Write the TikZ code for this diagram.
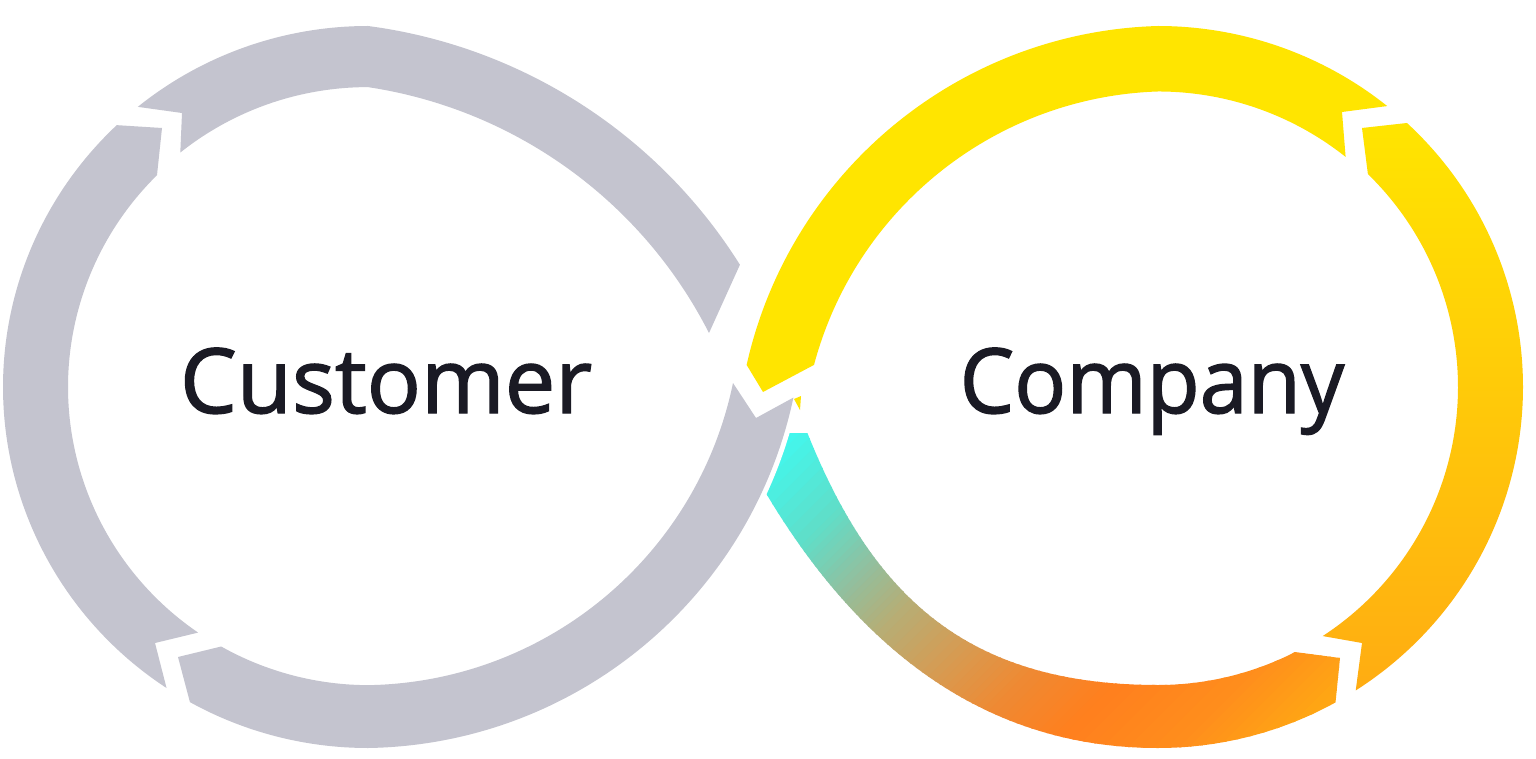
\documentclass[tikz,border=0pt]{standalone}
\usepackage{fontspec}
\newfontfamily\lblfont{Open Sans}[FakeBold=1.6]
\definecolor{loopgray}{RGB}{196,196,207}
\definecolor{loopyellow}{RGB}{255,229,0}
\definecolor{labeltext}{RGB}{26,26,36}
\definecolor{g0}{RGB}{61,251,244}
\definecolor{g1}{RGB}{96,222,200}
\definecolor{g2}{RGB}{144,192,160}
\definecolor{g3}{RGB}{182,174,118}
\definecolor{g4}{RGB}{216,154,80}
\definecolor{g5}{RGB}{238,138,52}
\definecolor{g6}{RGB}{255,127,30}
\definecolor{g7}{RGB}{255,142,28}
\definecolor{g8}{RGB}{255,166,20}
\definecolor{rbot}{RGB}{255,172,18}
\begin{document}
\begin{tikzpicture}[x=1pt,y=-1pt,
  lbltext/.style={font=\lblfont\fontsize{90}{100}\selectfont, text=labeltext, inner sep=0pt, anchor=base}]
\useasboundingbox (0,0) rectangle (1536,759);
\fill[white] (0,0) rectangle (1536,759);

% ---- gradient piece (right lobe, bottom) ----
\begin{scope}
\clip (0,433) rectangle (1536,759);
\clip (736,430) -- (760,483) .. controls (870,673.5) and (1008,748) .. (1158,748)
  arc[start angle=90, end angle=60.9, x radius=365, y radius=361]
  -- (1340,658)
  -- ([shift={(1158,387)}]62.8:300 and 298)
  arc[start angle=62.8, end angle=90, x radius=300, y radius=298]
  .. controls (958,685) and (862,588.4) .. (795,400)
  -- (780,395) -- cycle;
\foreach \sa/\sb/\ca/\cb in {-80/0/g0/g0, 0/100/g0/g1, 100/160/g1/g2, 160/215/g2/g3, 215/290/g3/g4, 290/350/g4/g5, 350/420/g5/g6, 420/510/g6/g7, 510/580/g7/g8, 580/720/g8/g8}{
  \foreach \k in {0,...,9}{
    \pgfmathsetmacro\s{\sa+(\sb-\sa)*\k/10}
    \pgfmathsetmacro\t{\sa+(\sb-\sa)*(\k+1)/10+1.5}
    \pgfmathtruncatemacro\p{\k*10+5}
    \fill[\cb!\p!\ca] ({780+0.7071*\s+600},{425+0.7071*\s-600}) -- ({780+0.7071*\s-600},{425+0.7071*\s+600}) -- ({780+0.7071*\t-600},{425+0.7071*\t+600}) -- ({780+0.7071*\t+600},{425+0.7071*\t-600}) -- cycle;
  }
}
\end{scope}

% ---- left lobe (gray) ----
% left piece
\fill[loopgray] ([shift={(368,387)}]123.5:365 and 361)
  arc[start angle=123.5, end angle=226.5, x radius=365, y radius=361]
  -- (162,128)
  -- ([shift={(368,387)}]225.3:300 and 298)
  arc[start angle=225.3, end angle=124.5, x radius=300, y radius=298]
  -- (155,643) -- cycle;
% top piece
\fill[loopgray] ([shift={(368,387)}]230.9:365 and 361)
  arc[start angle=230.9, end angle=270, x radius=365, y radius=361]
  arc[start angle=-82.5, end angle=-32.1, radius=519]
  -- (709,333)
  arc[start angle=-26.95, end angle=-81.48, radius=459]
  arc[start angle=270, end angle=231.3, x radius=300, y radius=298]
  -- (182,113) -- cycle;
% lower piece
\draw[white, line width=10] (368,748) arc[start angle=89.09, end angle=11.95, radius=442];
\fill[loopgray] (178,657)
  -- ([shift={(368,387)}]119.2:365 and 361)
  arc[start angle=119.2, end angle=90, x radius=365, y radius=361]
  arc[start angle=89.09, end angle=11.95, radius=442]
  -- (756,418) -- (733,383)
  arc[start angle=11.69, end angle=88.94, radius=379]
  arc[start angle=90, end angle=119.5, x radius=300, y radius=298]
  -- cycle;

% ---- right lobe ----
% top piece (yellow)
\fill[loopyellow] ([shift={(1158,387)}]-51.1:365 and 361)
  arc[start angle=-51.1, end angle=-90, x radius=365, y radius=361]
  arc[start angle=268.4, end angle=192.63, radius=434]
  -- (763,392) -- (814,364.9)
  arc[start angle=194.92, end angle=268.13, radius=368.5]
  arc[start angle=-90, end angle=-51.3, x radius=300, y radius=298]
  -- (1342,112) -- cycle;
% right piece
\shade[top color=loopyellow, middle color=loopyellow, bottom color=rbot]
  ([shift={(1158,387)}]57.2:365 and 361)
  arc[start angle=57.2, end angle=-47, x radius=365, y radius=361]
  -- (1362,128)
  -- ([shift={(1158,387)}]-45.6:300 and 298)
  arc[start angle=-45.6, end angle=56.7, x radius=300, y radius=298]
  -- (1362,643) -- cycle;
% small yellow sliver at the crossing
\fill[loopyellow] (794,399) -- (801,396) -- (800,410) -- cycle;

% ---- labels ----
\node[lbltext] (customer) at (386,413) {Customer};
\node[lbltext] (company) at (1152,413) {\scalebox{0.96}[1]{Company}};
\end{tikzpicture}
\end{document}
